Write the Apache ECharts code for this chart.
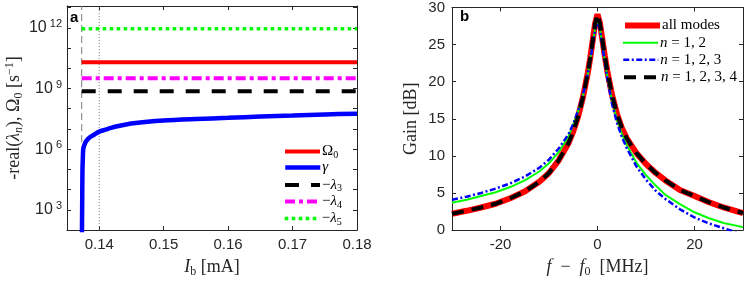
<!DOCTYPE html>
<html><head><meta charset="utf-8">
<script src="https://cdn.jsdelivr.net/npm/echarts@6/dist/echarts.min.js"></script>
<style>html,body{margin:0;padding:0;background:#fff}#c{width:747px;height:283px}</style>
</head><body><div id="c"></div>
<script>
// ---------- Panel a data ----------
const markerI = [0.13728, 0.14];          // dashed threshold line, dotted line
const levelI = [0.13728, 0.18];           // extent of the constant levels
const omega0 = [2.0e10, 2.0e10];
const lambda3 = [7.4e8, 7.4e8];
const lambda4 = [3.2e9, 3.2e9];
const lambda5 = [8.9e11, 8.9e11];
const gammaI = [0.13730, 0.13736, 0.13740, 0.13745, 0.13752, 0.1377, 0.1379, 0.1381, 0.1386, 0.1392, 0.1400, 0.1410, 0.1417, 0.1430, 0.1453, 0.1500, 0.1550, 0.1600, 0.1650, 0.1700, 0.1750, 0.1800];
const gammaVal = [1e1, 3e3, 1e5, 3e5, 1e6, 1.6e6, 2.3e6, 2.8e6, 4.0e6, 5.2e6, 7.4e6, 9.3e6, 1.1e7, 1.4e7, 1.9e7, 2.6e7, 3.1e7, 3.55e7, 4.1e7, 4.6e7, 5.2e7, 5.7e7];
const xTicksA = [0.14, 0.15, 0.16, 0.17, 0.18];
const yRangeA = [1e2, 1.2e13];

// ---------- Panel b data ----------
const freq = [-30,-27,-24,-21,-18,-15,-12,-10,-8,-6,-5,-4,-3,-2,-1.5,-1,-0.5,0,0.5,1,1.5,2,3,4,5,6,8,10,12,14,17,20,23,26,30];
const allModes = [2.2,2.6,3.05,3.55,4.3,5.2,6.5,7.7,9.4,11.7,13.3,15.3,17.9,21.2,23.2,25.5,27.8,29.1,27.9,25.7,23.5,21.5,18.2,15.7,13.8,12.4,10.4,8.9,7.7,6.7,5.4,4.6,3.75,3.05,2.3];
const n12 = [3.7,4.1,4.6,5.1,5.8,6.7,7.9,9.0,10.5,12.6,14.2,16.0,18.0,21.0,22.9,25.0,27.2,28.4,27.2,25.0,22.8,20.8,17.4,14.9,13.0,11.5,9.1,7.4,6.0,4.75,3.5,2.4,1.6,0.95,0.4];
const n123 = [4.1,4.5,5.0,5.6,6.3,7.2,8.4,9.5,11.0,12.9,14.3,16.1,18.2,21.1,22.9,24.9,27.0,28.2,27.0,24.8,22.6,20.5,17.0,14.5,12.6,11.1,8.6,6.8,5.3,4.2,2.8,1.7,0.9,0.25,-0.6];
const n1234 = [2.2,2.6,3.05,3.55,4.3,5.2,6.5,7.7,9.4,11.7,13.3,15.3,17.9,21.2,23.2,25.5,27.8,29.1,27.9,25.7,23.5,21.5,18.2,15.7,13.8,12.4,10.4,8.9,7.7,6.7,5.4,4.6,3.75,3.05,2.3];
const xTicksB = [-20, 0, 20];

// ---------- build ----------
const zip = (xs, ys) => xs.map((x, i) => [x, ys[i]]);
const AX = '#262626';
const SANS = 'Liberation Sans';
const SERIF = 'Liberation Serif';
const richMath = {
  r: {fontFamily: SERIF, fontSize: 18, lineHeight: 20, color: AX},
  i: {fontFamily: SERIF, fontSize: 18, lineHeight: 20, fontStyle: 'italic', color: AX},
  sb: {fontFamily: SERIF, fontSize: 12, lineHeight: 12, padding: [9, 0, 0, 0], color: AX},
  sbi: {fontFamily: SERIF, fontSize: 12, lineHeight: 12, fontStyle: 'italic', padding: [9, 0, 0, 0], color: AX},
  sp: {fontFamily: SERIF, fontSize: 12, lineHeight: 12, padding: [0, 0, 9, 0], color: AX}
};
const richLeg = {
  r: {fontFamily: SERIF, fontSize: 15, lineHeight: 16, color: '#000'},
  i: {fontFamily: SERIF, fontSize: 15, lineHeight: 16, fontStyle: 'italic', color: '#000'},
  sb: {fontFamily: SERIF, fontSize: 10, lineHeight: 10, padding: [7, 0, 0, 0], color: '#000'}
};
const tickCommon = {inside: true, length: 4, lineStyle: {color: AX, width: 1}};
const lineCommon = {onZero: false, lineStyle: {color: AX, width: 1}};
const labelCommon = {fontFamily: SANS, fontSize: 15, color: AX};

function hline(name, vals, color, width, type, z) {
  return {name, type: 'line', xAxisIndex: 0, yAxisIndex: 0, data: zip(levelI, vals),
    symbol: 'none', lineStyle: {color, width, type, cap: 'butt'}, itemStyle: {color}, z, silent: true};
}

function legendItem(name, left, cy, fmt) {
  return {data: [name], left, top: cy - 7, itemWidth: 35, itemHeight: 14, itemGap: 0, padding: 0,
    selectedMode: false, formatter: fmt, itemStyle: {opacity: 0}, lineStyle: {width: 'inherit'},
    textStyle: {rich: richLeg, padding: [0, 0, 0, -3]}};
}

const option = {
  animation: false,
  backgroundColor: '#fff',
  grid: [
    {left: 67, top: 6, width: 290, height: 230},
    {left: 452, top: 6, width: 291, height: 230}
  ],
  xAxis: [
    {type: 'value', gridIndex: 0, min: 0.135, max: 0.18,
     axisLine: lineCommon, splitLine: {show: false},
     axisTick: Object.assign({customValues: xTicksA}, tickCommon),
     axisLabel: Object.assign({customValues: xTicksA, margin: 7, formatter: v => v.toFixed(2)}, labelCommon),
     name: '{i|I}{sb|b}{r| [mA]}', nameLocation: 'middle', nameGap: 25,
     nameTextStyle: {rich: richMath}},
    {type: 'value', gridIndex: 0, position: 'top', min: 0.135, max: 0.18,
     axisLine: lineCommon, splitLine: {show: false},
     axisTick: Object.assign({customValues: xTicksA}, tickCommon), axisLabel: {show: false}},
    {type: 'value', gridIndex: 1, min: -30, max: 30,
     axisLine: lineCommon, splitLine: {show: false},
     axisTick: Object.assign({customValues: xTicksB}, tickCommon),
     axisLabel: Object.assign({customValues: xTicksB, margin: 7}, labelCommon),
     name: '{i|f}{r|  −  }{i|f}{sb|0}{r|  [MHz]}', nameLocation: 'middle', nameGap: 25,
     nameTextStyle: {rich: richMath}},
    {type: 'value', gridIndex: 1, position: 'top', min: -30, max: 30,
     axisLine: lineCommon, splitLine: {show: false},
     axisTick: Object.assign({customValues: xTicksB}, tickCommon), axisLabel: {show: false}}
  ],
  yAxis: [
    {type: 'log', logBase: 10, gridIndex: 0, min: yRangeA[0], max: yRangeA[1], interval: 1,
     axisLine: lineCommon, splitLine: {show: false}, minorTick: {show: false},
     axisTick: tickCommon,
     axisLabel: {margin: 5, showMinLabel: false, showMaxLabel: false,
       formatter: v => { const e = Math.round(Math.log10(v)); return (e % 3 === 0 && e > 2 && e < 13) ? '{b|10}{s|' + e + '}' : ''; },
       rich: {b: {fontFamily: SANS, fontSize: 16, lineHeight: 18, color: AX},
              s: {fontFamily: SANS, fontSize: 11, lineHeight: 11, padding: [0, 0, 8, 3], color: AX}}},
     name: '{r|-real(}{i|λ}{sbi|n}{r|), Ω}{sb|0}{r| [s}{sp|−1}{r|]}', nameLocation: 'middle', nameGap: 43,
     nameTextStyle: {rich: richMath}},
    {type: 'log', logBase: 10, gridIndex: 0, position: 'right', min: yRangeA[0], max: yRangeA[1], interval: 1,
     axisLine: lineCommon, splitLine: {show: false}, axisTick: tickCommon, axisLabel: {show: false}},
    {type: 'value', gridIndex: 1, min: 0, max: 30, interval: 5,
     axisLine: lineCommon, splitLine: {show: false}, axisTick: tickCommon,
     axisLabel: Object.assign({margin: 7}, labelCommon),
     name: '{r|Gain [dB]}', nameLocation: 'middle', nameGap: 31,
     nameTextStyle: {rich: richMath}},
    {type: 'value', gridIndex: 1, position: 'right', min: 0, max: 30, interval: 5,
     axisLine: lineCommon, splitLine: {show: false}, axisTick: tickCommon, axisLabel: {show: false}}
  ],
  legend: [
    legendItem('Ω0', 283, 150, '{r|Ω}{sb|0}'),
    legendItem('γ', 283, 167, '{i|γ}'),
    legendItem('-λ3', 283, 183.5, '{r|−}{i|λ}{sb|3}'),
    legendItem('-λ4', 283, 200, '{r|−}{i|λ}{sb|4}'),
    legendItem('-λ5', 283, 217, '{r|−}{i|λ}{sb|5}'),
    legendItem('all modes', 622, 25, '{r|all modes}'),
    legendItem('n=1,2', 622, 42.3, '{i|n}{r| = 1, 2}'),
    legendItem('n=1,2,3', 622, 59.3, '{i|n}{r| = 1, 2, 3}'),
    legendItem('n=1,2,3,4', 622, 76.7, '{i|n}{r| = 1, 2, 3, 4}')
  ],
  graphic: [
    {type: 'text', left: 70, top: 10, style: {text: 'a', font: 'bold 15px "Liberation Sans"', fill: '#000'}},
    {type: 'text', left: 460, top: 9, style: {text: 'b', font: 'bold 15px "Liberation Sans"', fill: '#000'}}
  ],
  series: [
    {type: 'line', xAxisIndex: 0, yAxisIndex: 0, data: [[markerI[0], yRangeA[0]], [markerI[0], yRangeA[1]]],
     symbol: 'none', silent: true, lineStyle: {color: '#7a7a7a', width: 1, type: [7, 4]}, z: 1},
    {type: 'line', xAxisIndex: 0, yAxisIndex: 0, data: [[markerI[1], yRangeA[0]], [markerI[1], yRangeA[1]]],
     symbol: 'none', silent: true, lineStyle: {color: '#7a7a7a', width: 1, type: [1, 2]}, z: 1},
    hline('Ω0', omega0, '#ff0000', 4, 'solid', 2),
    {name: 'γ', type: 'line', xAxisIndex: 0, yAxisIndex: 0, data: zip(gammaI, gammaVal), symbol: 'none',
     smooth: 0.3, lineStyle: {color: '#0000ff', width: 4.5}, itemStyle: {color: '#0000ff'}, z: 3, silent: true},
    hline('-λ3', lambda3, '#000000', 4, [14, 12], 4),
    hline('-λ4', lambda4, '#ff00ff', 4, [10, 4, 4, 4], 5),
    hline('-λ5', lambda5, '#00ff00', 3.5, [3.5, 3.5], 6),
    {name: 'all modes', type: 'line', xAxisIndex: 2, yAxisIndex: 2, data: zip(freq, allModes), symbol: 'none',
     lineStyle: {color: '#ff0000', width: 6}, itemStyle: {color: '#ff0000'}, z: 2, silent: true},
    {name: 'n=1,2', type: 'line', xAxisIndex: 2, yAxisIndex: 2, data: zip(freq, n12), symbol: 'none',
     lineStyle: {color: '#00ff00', width: 2}, itemStyle: {color: '#00ff00'}, z: 3, silent: true},
    {name: 'n=1,2,3', type: 'line', xAxisIndex: 2, yAxisIndex: 2, data: zip(freq, n123), symbol: 'none',
     lineStyle: {color: '#0000ff', width: 2.5, type: [6, 2.5, 2, 2.5]}, itemStyle: {color: '#0000ff'}, z: 4, silent: true},
    {name: 'n=1,2,3,4', type: 'line', xAxisIndex: 2, yAxisIndex: 2, data: zip(freq, n1234), symbol: 'none',
     lineStyle: {color: '#000000', width: 4, type: [12, 8]}, itemStyle: {color: '#000000'}, z: 5, silent: true}
  ]
};
const chart = echarts.init(document.getElementById('c'), null, {renderer: 'canvas'});
chart.setOption(option);
</script>
</body></html>
